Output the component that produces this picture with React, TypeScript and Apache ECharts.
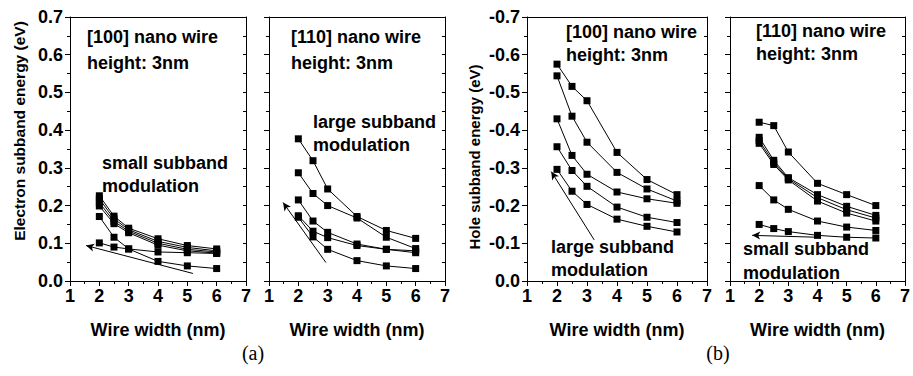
import React, { useEffect, useRef } from "react";
import * as echarts from "echarts";

// ---------- data ----------
const widths = [2, 2.5, 3, 4, 5, 6];
const xTicks = [1, 2, 3, 4, 5, 6, 7];

// (a) electron subband energy, [100] wire (eV)
const elec100 = [
  [0.226, 0.172, 0.14, 0.112, 0.094, 0.085],
  [0.218, 0.165, 0.136, 0.105, 0.089, 0.08],
  [0.208, 0.158, 0.132, 0.1, 0.084, 0.077],
  [0.199, 0.152, 0.128, 0.095, 0.08, 0.074],
  [0.171, 0.116, 0.085, 0.052, 0.04, 0.033],
  [0.101, 0.09, 0.085, 0.077, 0.075, 0.073],
];
// (a) electron subband energy, [110] wire (eV)
const elec110 = [
  [0.377, 0.319, 0.244, 0.171, 0.134, 0.113],
  [0.287, 0.232, 0.2, 0.167, 0.116, 0.086],
  [0.215, 0.159, 0.129, 0.098, 0.084, 0.08],
  [0.173, 0.132, 0.115, 0.094, 0.084, 0.075],
  [0.169, 0.117, 0.084, 0.054, 0.04, 0.033],
];
// (b) hole subband energy, [100] wire (eV)
const hole100 = [
  [-0.575, -0.516, -0.478, -0.341, -0.269, -0.229],
  [-0.544, -0.437, -0.368, -0.288, -0.244, -0.212],
  [-0.43, -0.333, -0.283, -0.236, -0.218, -0.206],
  [-0.356, -0.293, -0.251, -0.196, -0.169, -0.155],
  [-0.296, -0.238, -0.203, -0.164, -0.145, -0.13],
];
// (b) hole subband energy, [110] wire (eV)
const hole110 = [
  [-0.421, -0.412, -0.342, -0.259, -0.229, -0.2],
  [-0.381, -0.32, -0.274, -0.229, -0.198, -0.174],
  [-0.372, -0.314, -0.271, -0.221, -0.189, -0.167],
  [-0.365, -0.309, -0.268, -0.212, -0.18, -0.159],
  [-0.253, -0.215, -0.19, -0.159, -0.143, -0.134],
  [-0.15, -0.139, -0.131, -0.121, -0.116, -0.114],
];

// annotation arrows: [tail, head] in data coordinates
const arrowElec100 = [[5.19, 0.02], [1.55, 0.094]];
const arrowElec110 = [[2.94, 0.049], [1.48, 0.208]];
const arrowHole100 = [[3.24, -0.109], [1.81, -0.29]];
const arrowHole110 = [[4.0, -0.116], [1.76, -0.121]];

const yRangeElectron = [0, 0.7];
const yRangeHole = [-0.7, 0];

const panelTitles = ["[100] nano wire", "[110] nano wire", "[100] nano wire", "[110] nano wire"];
const heightLabel = "height: 3nm";
const modLabels = [
  ["small subband", "modulation"],
  ["large subband", "modulation"],
  ["large subband", "modulation"],
  ["small subband", "modulation"],
];
const xTitle = "Wire width (nm)";
const yTitles = ["Electron subband energy (eV)", "Hole subband energy (eV)"];
const figLabels = ["(a)", "(b)"];

// ---------- layout ----------
const FONT = "Liberation Sans, Arial, Helvetica, sans-serif";
const SERIF = "Liberation Serif, Times New Roman, serif";
const grids = [
  { left: 70, top: 17, width: 176, height: 264 },
  { left: 269, top: 17, width: 176, height: 264 },
  { left: 527, top: 17, width: 180, height: 264 },
  { left: 730, top: 17, width: 179, height: 264 },
];
const textPos = [
  { x: 87, t1: 37, t2: 63, mx: 102, m1: 163, m2: 186 },
  { x: 291, t1: 37, t2: 63, mx: 313, m1: 122, m2: 145 },
  { x: 566, t1: 32, t2: 55, mx: 551, m1: 247, m2: 270 },
  { x: 756, t1: 31, t2: 54, mx: 743, m1: 249, m2: 273 },
];

const panelData = [elec100, elec110, hole100, hole110];
const panelArrows = [arrowElec100, arrowElec110, arrowHole100, arrowHole110];

function fmt(v: number) {
  return Math.abs(v) < 1e-9 ? "0.0" : v.toFixed(1);
}

export default function App() {
  const ref = useRef<HTMLDivElement>(null);
  useEffect(() => {
    if (!ref.current) return;
    const chart = echarts.init(ref.current, undefined, { renderer: "svg" });
    const black = "#000";
    const lbl = { color: black, fontSize: 18, fontWeight: "bold" as const, fontFamily: FONT };

    const xAxes: any[] = [];
    const yAxes: any[] = [];
    grids.forEach((_, i) => {
      xAxes.push({
        type: "value",
        gridIndex: i,
        min: xTicks[0],
        max: xTicks[xTicks.length - 1],
        interval: 1,
        axisLine: { show: true, onZero: false, lineStyle: { color: black, width: 1 } },
        axisTick: { show: true, length: 5, lineStyle: { color: black, width: 1 } },
        minorTick: { show: true, splitNumber: 2, length: 3, lineStyle: { color: black, width: 1 } },
        splitLine: { show: false },
        axisLabel: { ...lbl, margin: 6, showMinLabel: true, showMaxLabel: true },
        name: xTitle,
        nameLocation: "middle",
        nameGap: 40,
        nameTextStyle: { ...lbl },
      });
    });
    grids.forEach((_, i) => {
      xAxes.push({
        type: "value",
        gridIndex: i,
        position: "top",
        min: 1,
        max: 7,
        interval: 1,
        axisLine: { show: true, onZero: false, lineStyle: { color: black, width: 1 } },
        axisTick: { show: false },
        axisLabel: { show: false },
        splitLine: { show: false },
      });
    });
    grids.forEach((_, i) => {
      const hole = i >= 2;
      const r = hole ? yRangeHole : yRangeElectron;
      yAxes.push({
        type: "value",
        gridIndex: i,
        min: r[0],
        max: r[1],
        interval: 0.1,
        inverse: hole,
        axisLine: { show: true, onZero: false, lineStyle: { color: black, width: 1 } },
        axisTick: { show: true, length: 5, lineStyle: { color: black, width: 1 } },
        minorTick: { show: true, splitNumber: 2, length: 3, lineStyle: { color: black, width: 1 } },
        splitLine: { show: false },
        axisLabel: { ...lbl, show: i % 2 === 0, margin: 7, formatter: fmt, showMinLabel: true, showMaxLabel: true },
      });
    });
    grids.forEach((_, i) => {
      const hole = i >= 2;
      const r = hole ? yRangeHole : yRangeElectron;
      yAxes.push({
        type: "value",
        gridIndex: i,
        position: "right",
        min: r[0],
        max: r[1],
        interval: 0.1,
        inverse: hole,
        axisLine: { show: true, onZero: false, lineStyle: { color: black, width: 1 } },
        axisTick: { show: true, inside: true, length: 3, lineStyle: { color: black, width: 1 } },
        minorTick: { show: true, splitNumber: 2, length: 3, lineStyle: { color: black, width: 1 } },
        axisLabel: { show: false },
        splitLine: { show: false },
      });
    });

    const series: any[] = [];
    panelData.forEach((lines, i) => {
      lines.forEach((vals, k) => {
        const s: any = {
          type: "line",
          xAxisIndex: i,
          yAxisIndex: i,
          data: widths.map((w, j) => [w, vals[j]]),
          symbol: "rect",
          symbolSize: 7,
          showSymbol: true,
          lineStyle: { color: black, width: 1 },
          itemStyle: { color: black },
          emphasis: { disabled: true },
          silent: true,
          z: 3,
        };
        if (k === 0) {
          const a = panelArrows[i];
          s.markLine = {
            silent: true,
            symbol: ["none", "arrow"],
            symbolSize: [6, 8],
            label: { show: false },
            lineStyle: { color: black, width: 1, type: "solid" },
            emphasis: { disabled: true },
            data: [[{ coord: a[0] }, { coord: a[1] }]],
          };
        }
        series.push(s);
      });
    });

    const graphic: any[] = [];
    const txt = (text: string, x: number, y: number, size = 18) => ({
      type: "text",
      x,
      y,
      silent: true,
      style: {
        text,
        fill: black,
        fontSize: size,
        fontWeight: "bold",
        fontFamily: FONT,
        align: "left",
        verticalAlign: "middle",
      },
    });
    textPos.forEach((p, i) => {
      graphic.push(txt(panelTitles[i], p.x, p.t1));
      graphic.push(txt(heightLabel, p.x, p.t2));
      graphic.push(txt(modLabels[i][0], p.mx, p.m1));
      graphic.push(txt(modLabels[i][1], p.mx, p.m2));
    });
    const rot = (text: string, x: number, y: number, size: number) => ({
      type: "text",
      x,
      y,
      rotation: Math.PI / 2,
      silent: true,
      style: {
        text,
        fill: black,
        fontSize: size,
        fontWeight: "bold",
        fontFamily: FONT,
        align: "center",
        verticalAlign: "middle",
      },
    });
    graphic.push(rot(yTitles[0], 19, 131, 15.5));
    graphic.push(rot(yTitles[1], 474, 157, 15));
    const fig = (text: string, x: number, y: number) => ({
      type: "text",
      x,
      y,
      silent: true,
      style: {
        text,
        fill: black,
        fontSize: 20,
        fontFamily: SERIF,
        align: "center",
        verticalAlign: "middle",
      },
    });
    graphic.push(fig(figLabels[0], 253, 353));
    graphic.push(fig(figLabels[1], 718, 353));

    chart.setOption({
      animation: false,
      backgroundColor: "#fff",
      grid: grids.map((g) => ({ ...g, containLabel: false })),
      xAxis: xAxes,
      yAxis: yAxes,
      series,
      graphic,
    });
    return () => chart.dispose();
  }, []);
  return (
    <div
      ref={ref}
      style={{ position: "fixed", left: 0, top: 0, width: 913, height: 376, background: "#fff" }}
    />
  );
}
